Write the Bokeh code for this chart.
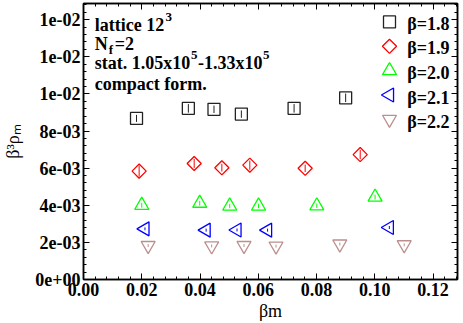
import numpy as np
from bokeh.plotting import figure
from bokeh.models import (FixedTicker, LinearAxis, Label, NumeralTickFormatter,
                          Range1d, ColumnDataSource)
from bokeh.embed import file_html
from bokeh.resources import INLINE

# ---------------- data ----------------
bm_18 = [0.0182, 0.0360, 0.0448, 0.0542, 0.0723, 0.0900]
rho_18 = [8.68e-3, 9.22e-3, 9.17e-3, 8.91e-3, 9.22e-3, 9.79e-3]
err_18 = [1.9e-4, 2.3e-4, 2.0e-4, 2.0e-4, 2.3e-4, 2.3e-4]

bm_19 = [0.0191, 0.0380, 0.0475, 0.0571, 0.0761, 0.0950]
rho_19 = [5.84e-3, 6.25e-3, 6.02e-3, 6.16e-3, 5.99e-3, 6.73e-3]
err_19 = [3.0e-4, 2.5e-4, 2.0e-4, 2.5e-4, 2.0e-4, 2.5e-4]

bm_20 = [0.0200, 0.0399, 0.0502, 0.0601, 0.0801, 0.1001]
rho_20 = [4.00e-3, 4.11e-3, 3.96e-3, 3.96e-3, 3.97e-3, 4.44e-3]
err_20 = [1.3e-4, 1.3e-4, 1.2e-4, 1.2e-4, 1.2e-4, 1.3e-4]

bm_21 = [0.0211, 0.0421, 0.0527, 0.0632, 0.1050]
rho_21 = [2.73e-3, 2.66e-3, 2.67e-3, 2.66e-3, 2.80e-3]
err_21 = [0.8e-4, 0.8e-4, 0.8e-4, 0.8e-4, 0.8e-4]

bm_22 = [0.0222, 0.0440, 0.0551, 0.0661, 0.0880, 0.1101]
rho_22 = [1.83e-3, 1.81e-3, 1.83e-3, 1.80e-3, 1.91e-3, 1.87e-3]
err_22 = [0.8e-4, 0.8e-4, 0.8e-4, 0.8e-4, 0.8e-4, 0.8e-4]

series_labels = ["β=1.8", "β=1.9", "β=2.0", "β=2.1", "β=2.2"]

x_ticks = [0.00, 0.02, 0.04, 0.06, 0.08, 0.10, 0.12]
y_ticks = [0.0, 0.002, 0.004, 0.006, 0.008, 0.010, 0.012, 0.014]
y_tick_labels = ["0e+00", "2e-03", "4e-03", "6e-03", "8e-03", "1e-02", "1e-02", "1e-02"]

# ---------------- style ----------------
FONT = "Liberation Serif"
TICK_FS = "18px"
FRAME_W, FRAME_H = 374, 280

p = figure(width=460, height=323, output_backend="svg",
           toolbar_location=None, x_range=Range1d(0, 0.1284),
           y_range=Range1d(0, 0.01487),
           min_border_left=83, min_border_right=3,
           min_border_top=3, min_border_bottom=40,
           background_fill_color="white", border_fill_color="white")
p.grid.visible = False
p.outline_line_color = "black"
p.outline_line_width = 1.5
# pixel-unit ranges for the legend key
p.extra_x_ranges = {"px": Range1d(0, FRAME_W)}
p.extra_y_ranges = {"px": Range1d(0, FRAME_H)}

x_minor = list(np.arange(0, 0.1284, 0.004))
y_minor = list(np.arange(0, 0.01487, 0.0004))
xt = FixedTicker(ticks=x_ticks, minor_ticks=x_minor)
yt = FixedTicker(ticks=y_ticks, minor_ticks=y_minor)


def style_axis(ax, labels=True):
    ax.axis_line_color = "black"
    ax.axis_line_width = 1.5
    ax.major_tick_in = 6
    ax.major_tick_out = 0
    ax.minor_tick_in = 3
    ax.minor_tick_out = 0
    ax.major_tick_line_color = "black"
    ax.minor_tick_line_color = "black"
    ax.major_tick_line_width = 1
    ax.minor_tick_line_width = 1
    if labels:
        ax.major_label_text_font = FONT
        ax.major_label_text_font_style = "bold"
        ax.major_label_text_font_size = TICK_FS
        ax.major_label_text_color = "black"
        ax.major_label_standoff = 3
        ax.axis_label_text_font = FONT
        ax.axis_label_text_font_style = "normal"
        ax.axis_label_text_font_size = "18px"
        ax.axis_label_text_color = "black"
    else:
        ax.major_label_text_font_size = "1px"
        ax.major_label_text_color = None
        ax.major_label_standoff = 0


xa = p.xaxis[0]
xa.ticker = xt
xa.formatter = NumeralTickFormatter(format="0.00")
style_axis(xa)
xa.axis_label = "βm"
xa.axis_label_standoff = 2

ya = p.yaxis[0]
ya.ticker = yt
ya.major_label_overrides = {t: l for t, l in zip(y_ticks, y_tick_labels)}
style_axis(ya)
ya.axis_label = "β³ρₘ"
ya.axis_label_standoff = 9

top = LinearAxis(ticker=xt)
style_axis(top, labels=False)
p.add_layout(top, "above")
right = LinearAxis(ticker=yt)
style_axis(right, labels=False)
p.add_layout(right, "right")

# ---------------- glyphs ----------------
specs = [
    (bm_18, rho_18, err_18, "square", 0.0, "#222222", 12),
    (bm_19, rho_19, err_19, "square", np.pi / 4, "#ff0000", 10),
    (bm_20, rho_20, err_20, "triangle", 0.0, "#00ff00", 14),
    (bm_21, rho_21, err_21, "triangle", np.pi / 2, "#0000ff", 14),
    (bm_22, rho_22, err_22, "inverted_triangle", 0.0, "#bc8f8f", 14),
]

# legend key layout (pixels inside the frame, origin bottom-left)
KEY_X, KEY_TEXT_X = 306, 323.7
KEY_ROWS = [261.3, 236.6, 211.9, 187.2, 162.5]


def lab(text, x, y, size="18px"):
    p.add_layout(Label(x=x, y=y, x_units="screen", y_units="screen",
                       text=text, text_font=FONT, text_font_style="bold",
                       text_font_size=size, text_color="black",
                       text_baseline="alphabetic", text_align="left"))


for (xs, ys, es, marker, ang, col, sz), name, ky in zip(specs, series_labels, KEY_ROWS):
    src = ColumnDataSource(dict(x=xs, y=ys,
                                lo=[a - b for a, b in zip(ys, es)],
                                hi=[a + b for a, b in zip(ys, es)]))
    p.segment(x0="x", y0="lo", x1="x", y1="hi", source=src,
              line_color=col, line_width=1)
    p.scatter(x="x", y="y", source=src, marker=marker, angle=ang,
              size=sz, fill_color=None, line_color=col, line_width=1.3)
    # legend key symbol + text
    p.scatter(x=[KEY_X], y=[ky], x_range_name="px", y_range_name="px",
              marker=marker, angle=ang, size=sz, fill_color=None,
              line_color=col, line_width=1.3)
    lab(name, KEY_TEXT_X, ky - 5.3)

# ---------------- annotations ----------------
lab("lattice 12", 11.3, 254.7)
lab("3", 82, 263, "13px")
lab("N", 11.3, 235.3)
lab("f", 25.3, 230, "13px")
lab("=2", 31.3, 235.3)
lab("stat. 1.05x10", 11.3, 216.3)
lab("5", 107.5, 224.3, "13px")
lab("-1.33x10", 114.5, 216.3)
lab("5", 179.5, 224.3, "13px")
lab("compact form.", 11.3, 195.5)

open("out.html", "w").write(file_html(p, INLINE))
